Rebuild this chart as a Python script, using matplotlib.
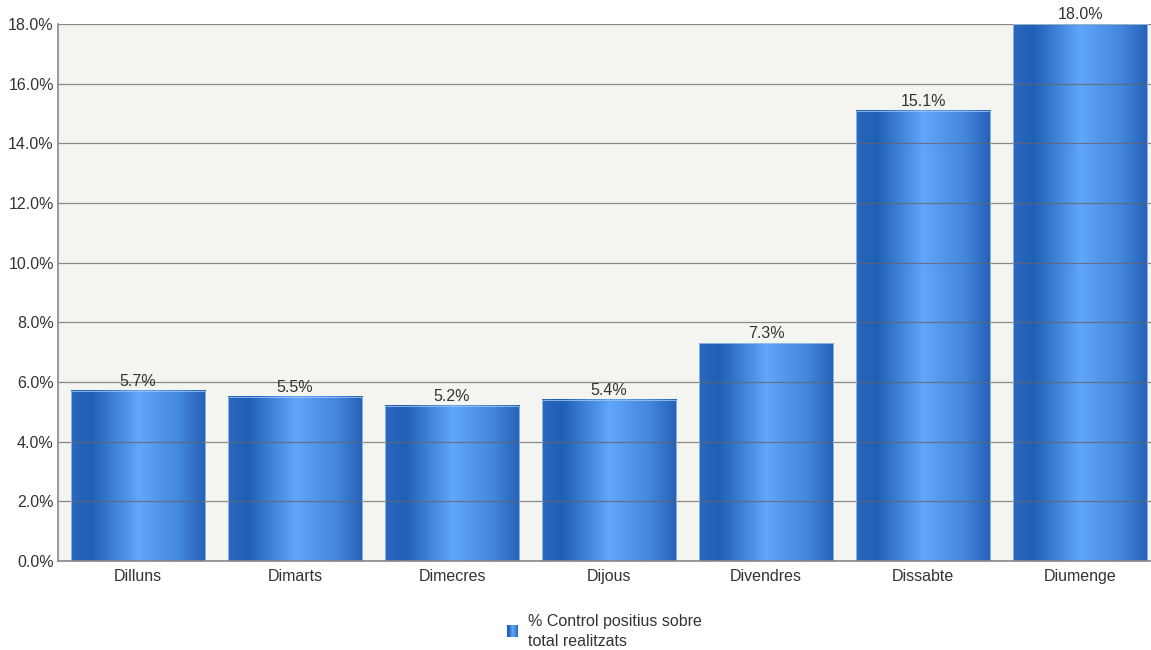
import numpy as np
import matplotlib.pyplot as plt
from matplotlib.colors import LinearSegmentedColormap
from matplotlib.patches import Rectangle

days = ["Dilluns", "Dimarts", "Dimecres", "Dijous", "Divendres", "Dissabte", "Diumenge"]
values = [5.7, 5.5, 5.2, 5.4, 7.3, 15.1, 18.0]
series_name = "% Control positius sobre\ntotal realitzats"

plt.rcParams['font.family'] = ['Liberation Sans', 'DejaVu Sans']

grad = LinearSegmentedColormap.from_list(
    "bar", [(0.0, "#2a68bf"), (0.15, "#1f5fb6"), (0.5, "#60a6fb"),
            (0.8, "#4487dc"), (1.0, "#2461b9")])
txt = "#333333"

fig = plt.figure(figsize=(11.51, 6.5), dpi=100)
# plot area runs slightly past the right edge of the image, as in the original
ax = fig.add_axes([58 / 1151, 0.137, 1099 / 1151, 0.826])
ax.set_facecolor("#f4f4f0")

width = 0.854
x = np.arange(len(days))
ax.set_xlim(-0.51, len(days) - 0.51)
ax.set_ylim(0, 18)

row = np.linspace(0, 1, 256).reshape(1, -1)
for xi, v in zip(x, values):
    ax.imshow(row, cmap=grad, aspect="auto", zorder=2,
              extent=(xi - width / 2, xi + width / 2, 0, v))
    ax.add_patch(Rectangle((xi - width / 2, 0), width, v, fill=False,
                           edgecolor="#9cc0ec", lw=0.6, zorder=3))
    ax.text(xi, v + 0.06, f"{v:.1f}%", ha="center", va="bottom",
            fontsize=11.5, color=txt, zorder=5)

ax.set_yticks(np.arange(0, 18.1, 2))
ax.set_yticklabels([f"{t:.1f}%" for t in np.arange(0, 18.1, 2)])
ax.set_xticks(x)
ax.set_xticklabels(days)
ax.tick_params(axis="both", length=0, labelsize=11.5, labelcolor=txt)
ax.tick_params(axis="x", pad=6)
ax.tick_params(axis="y", pad=3)
ax.yaxis.grid(True, color="#666666", lw=0.9, alpha=0.75, zorder=4)
ax.set_axisbelow(False)
for s in ["top", "right"]:
    ax.spines[s].set_visible(False)
for s in ["left", "bottom"]:
    ax.spines[s].set_color("#888888")
    ax.spines[s].set_linewidth(1.2)
    ax.spines[s].set_zorder(6)

# legend
lax = fig.add_axes([507 / 1151, 1 - 637 / 650, 11 / 1151, 12 / 650])
lax.imshow(row, cmap=grad, aspect="auto")
lax.axis("off")
fig.text(528 / 1151, 1 - 649 / 650, series_name, fontsize=11.5, color=txt,
         ha="left", va="bottom", linespacing=1.45)

fig.savefig("out.png", dpi=100)
